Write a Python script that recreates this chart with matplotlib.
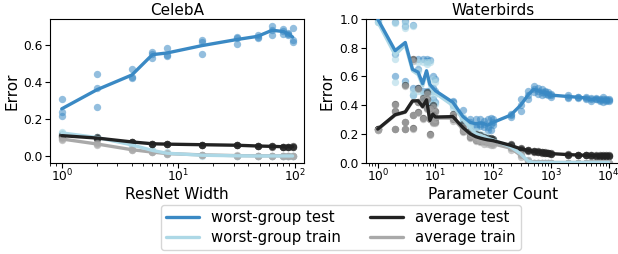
import numpy as np
import matplotlib
matplotlib.use("Agg")
import matplotlib.pyplot as plt

# ---------------- CelebA data ----------------
celeb_width = [1, 2, 4, 6, 8, 16, 32, 48, 64, 80, 88, 96]

celeb_worst_test = [0.255, 0.358, 0.438, 0.548, 0.557, 0.597, 0.63, 0.647, 0.68, 0.673, 0.66, 0.643]
celeb_worst_train = [0.125, 0.10, 0.06, 0.03, 0.015, 0.004, 0.001, 0.0, 0.0, 0.0, 0.0, 0.0]
celeb_avg_test = [0.11, 0.097, 0.076, 0.066, 0.064, 0.061, 0.058, 0.054, 0.052, 0.05, 0.05, 0.051]
celeb_avg_train = [0.092, 0.065, 0.034, 0.021, 0.013, 0.006, 0.002, 0.001, 0.001, 0.001, 0.001, 0.001]

celeb_worst_test_pts = [
    [0.31, 0.24, 0.215], [0.445, 0.365, 0.265], [0.47, 0.425, 0.42], [0.565, 0.55, 0.53],
    [0.585, 0.545, 0.54], [0.625, 0.615, 0.55], [0.645, 0.64, 0.605], [0.655, 0.645, 0.64],
    [0.705, 0.68, 0.655], [0.685, 0.675, 0.66], [0.665, 0.66, 0.655], [0.69, 0.625, 0.615]]
celeb_worst_train_pts = [
    [0.13, 0.125, 0.12], [0.105, 0.10, 0.095], [0.065, 0.06, 0.055], [0.035, 0.03, 0.025],
    [0.02, 0.015, 0.01], [0.005, 0.004, 0.002], [0.001, 0.0, 0.0], [0.0, 0.0, 0.0],
    [0.0, 0.0, 0.0], [0.0, 0.0, 0.0], [0.0, 0.0, 0.0], [0.0, 0.0, 0.0]]
celeb_avg_test_pts = [
    [0.115, 0.11, 0.105], [0.10, 0.097, 0.093], [0.078, 0.076, 0.074], [0.067, 0.066, 0.065],
    [0.065, 0.064, 0.063], [0.062, 0.061, 0.060], [0.059, 0.058, 0.057], [0.055, 0.054, 0.053],
    [0.053, 0.052, 0.051], [0.051, 0.05, 0.049], [0.051, 0.05, 0.049], [0.052, 0.051, 0.05]]
celeb_avg_train_pts = [
    [0.095, 0.092, 0.089], [0.068, 0.065, 0.062], [0.036, 0.034, 0.032], [0.023, 0.021, 0.019],
    [0.015, 0.013, 0.011], [0.007, 0.006, 0.005], [0.003, 0.002, 0.001], [0.001, 0.001, 0.001],
    [0.001, 0.001, 0.001], [0.001, 0.001, 0.001], [0.001, 0.001, 0.001], [0.001, 0.001, 0.001]]

# ---------------- Waterbirds data ----------------
wb_params = [1, 2, 3, 4, 5, 6, 7, 8, 9,
             10, 20, 30, 40, 50, 60, 70, 80, 90,
             100, 200, 300, 400, 500, 600, 700, 800, 900,
             1000, 2000, 3000, 4000, 5000, 6000, 7000, 8000, 9000, 10000]

wb_worst_test = [1.0, 0.78, 0.837, 0.65, 0.63, 0.55, 0.64, 0.545, 0.52,
                 0.50, 0.42, 0.32, 0.28, 0.27, 0.275, 0.27, 0.26, 0.27,
                 0.28, 0.33, 0.40, 0.47, 0.51, 0.50, 0.49, 0.49, 0.48,
                 0.47, 0.46, 0.455, 0.45, 0.44, 0.445, 0.435, 0.44, 0.435, 0.435]
wb_worst_train = [0.98, 0.75, 0.82, 0.64, 0.613, 0.533, 0.627, 0.53, 0.503,
                  0.483, 0.397, 0.30, 0.24, 0.20, 0.19, 0.18, 0.17, 0.163,
                  0.157, 0.11, 0.06, 0.01, 0.0, 0.0, 0.0, 0.0, 0.0,
                  0.0, 0.0, 0.0, 0.0, 0.0, 0.0, 0.0, 0.0, 0.0, 0.0]
wb_avg_test = [0.233, 0.333, 0.353, 0.43, 0.43, 0.39, 0.437, 0.293, 0.337,
               0.317, 0.32, 0.243, 0.20, 0.18, 0.17, 0.163, 0.158, 0.155,
               0.152, 0.12, 0.095, 0.085, 0.078, 0.075, 0.072, 0.068, 0.065,
               0.062, 0.055, 0.052, 0.05, 0.049, 0.048, 0.048, 0.047, 0.047, 0.047]
wb_avg_train = [0.23, 0.33, 0.35, 0.425, 0.425, 0.385, 0.43, 0.29, 0.33,
                0.31, 0.31, 0.23, 0.19, 0.165, 0.155, 0.145, 0.14, 0.135,
                0.13, 0.10, 0.05, 0.01, 0.0, 0.0, 0.0, 0.0, 0.0,
                0.0, 0.0, 0.0, 0.0, 0.0, 0.0, 0.0, 0.0, 0.0, 0.0]

wb_worst_test_pts = [
    [1.0, 1.0, 1.0], [0.98, 0.76, 0.605], [0.99, 0.955, 0.565], [0.96, 0.52, 0.47],
    [0.72, 0.65, 0.52], [0.72, 0.50, 0.43], [0.72, 0.71, 0.50], [0.715, 0.50, 0.42],
    [0.60, 0.52, 0.44], [0.58, 0.50, 0.42], [0.43, 0.42, 0.40], [0.365, 0.31, 0.285],
    [0.30, 0.28, 0.26], [0.30, 0.26, 0.25], [0.30, 0.27, 0.255], [0.29, 0.27, 0.25],
    [0.30, 0.25, 0.23], [0.31, 0.27, 0.23], [0.30, 0.28, 0.26], [0.34, 0.33, 0.32],
    [0.44, 0.40, 0.36], [0.50, 0.47, 0.44], [0.53, 0.51, 0.49], [0.52, 0.50, 0.48],
    [0.51, 0.49, 0.47], [0.50, 0.49, 0.48], [0.49, 0.48, 0.47], [0.48, 0.47, 0.46],
    [0.47, 0.46, 0.45], [0.46, 0.455, 0.45], [0.46, 0.45, 0.44], [0.45, 0.44, 0.43],
    [0.45, 0.445, 0.44], [0.44, 0.435, 0.43], [0.455, 0.44, 0.425], [0.44, 0.435, 0.43],
    [0.44, 0.435, 0.43]]
wb_worst_train_pts = [
    [0.98, 0.98, 0.98], [0.97, 0.72, 0.56], [0.97, 0.94, 0.55], [0.95, 0.50, 0.47],
    [0.70, 0.64, 0.50], [0.70, 0.48, 0.42], [0.70, 0.69, 0.49], [0.70, 0.48, 0.41],
    [0.58, 0.50, 0.43], [0.56, 0.48, 0.41], [0.41, 0.40, 0.38], [0.32, 0.30, 0.28],
    [0.26, 0.24, 0.22], [0.22, 0.20, 0.19], [0.20, 0.19, 0.18], [0.19, 0.18, 0.17],
    [0.18, 0.17, 0.16], [0.17, 0.165, 0.155], [0.165, 0.155, 0.15], [0.12, 0.11, 0.10],
    [0.07, 0.06, 0.05], [0.02, 0.01, 0.0], [0.0, 0.0, 0.0], [0.0, 0.0, 0.0],
    [0.0, 0.0, 0.0], [0.0, 0.0, 0.0], [0.0, 0.0, 0.0], [0.0, 0.0, 0.0],
    [0.0, 0.0, 0.0], [0.0, 0.0, 0.0], [0.0, 0.0, 0.0], [0.0, 0.0, 0.0],
    [0.0, 0.0, 0.0], [0.0, 0.0, 0.0], [0.0, 0.0, 0.0], [0.0, 0.0, 0.0],
    [0.0, 0.0, 0.0]]
wb_avg_test_pts = [
    [0.233, 0.233, 0.233], [0.405, 0.358, 0.237], [0.54, 0.283, 0.237], [0.72, 0.33, 0.24],
    [0.52, 0.42, 0.35], [0.45, 0.41, 0.31], [0.49, 0.44, 0.38], [0.38, 0.30, 0.20],
    [0.40, 0.33, 0.28], [0.36, 0.31, 0.28], [0.34, 0.32, 0.30], [0.27, 0.24, 0.22],
    [0.22, 0.20, 0.18], [0.20, 0.18, 0.16], [0.19, 0.17, 0.15], [0.18, 0.16, 0.15],
    [0.17, 0.16, 0.145], [0.17, 0.155, 0.14], [0.165, 0.15, 0.14], [0.13, 0.12, 0.11],
    [0.10, 0.095, 0.09], [0.09, 0.085, 0.08], [0.082, 0.078, 0.074], [0.078, 0.075, 0.072],
    [0.075, 0.072, 0.069], [0.07, 0.068, 0.066], [0.067, 0.065, 0.063], [0.064, 0.062, 0.06],
    [0.057, 0.055, 0.053], [0.053, 0.052, 0.05], [0.051, 0.05, 0.049], [0.05, 0.049, 0.048],
    [0.049, 0.048, 0.047], [0.049, 0.048, 0.047], [0.049, 0.048, 0.047], [0.049, 0.048, 0.047],
    [0.049, 0.048, 0.047]]
wb_avg_train_pts = [
    [0.23, 0.23, 0.23], [0.40, 0.35, 0.235], [0.53, 0.28, 0.235], [0.71, 0.33, 0.235],
    [0.51, 0.42, 0.345], [0.44, 0.405, 0.305], [0.48, 0.435, 0.375], [0.37, 0.30, 0.195],
    [0.39, 0.325, 0.275], [0.35, 0.305, 0.275], [0.33, 0.31, 0.29], [0.25, 0.23, 0.21],
    [0.21, 0.19, 0.17], [0.18, 0.165, 0.15], [0.17, 0.155, 0.14], [0.16, 0.145, 0.13],
    [0.15, 0.14, 0.13], [0.145, 0.135, 0.125], [0.14, 0.13, 0.12], [0.11, 0.10, 0.09],
    [0.06, 0.05, 0.04], [0.02, 0.01, 0.0], [0.0, 0.0, 0.0], [0.0, 0.0, 0.0],
    [0.0, 0.0, 0.0], [0.0, 0.0, 0.0], [0.0, 0.0, 0.0], [0.0, 0.0, 0.0],
    [0.0, 0.0, 0.0], [0.0, 0.0, 0.0], [0.0, 0.0, 0.0], [0.0, 0.0, 0.0],
    [0.0, 0.0, 0.0], [0.0, 0.0, 0.0], [0.0, 0.0, 0.0], [0.0, 0.0, 0.0],
    [0.0, 0.0, 0.0]]

labels = ["worst-group test", "worst-group train", "average test", "average train"]
colors = ["#3a89c4", "#add8e6", "#222222", "#a9a9a9"]
pt_alpha = [0.55, 0.6, 0.6, 0.6]
line_z = [6, 4, 5, 3]

FS = 11.0
LS = 10.7
TS = 8.8

fig = plt.figure(figsize=(6.18, 2.54), dpi=100)
ax1 = fig.add_axes([50.2 / 618, 1 - 162.5 / 254, 254 / 618, 143.4 / 254])
ax2 = fig.add_axes([366.2 / 618, 1 - 162.5 / 254, 254 / 618, 143.4 / 254])


def draw(ax, x, lines, pts):
    handles = []
    for i in range(4):
        p = np.asarray(pts[i])
        xs = np.repeat(np.asarray(x, dtype=float), p.shape[1])
        ax.scatter(xs, p.ravel(), s=28, color=colors[i], alpha=pt_alpha[i],
                   linewidths=0, zorder=2)
    for i in range(4):
        h, = ax.plot(x, lines[i], color=colors[i], lw=2.4, zorder=line_z[i],
                     solid_capstyle="round", label=labels[i])
        handles.append(h)
    ax.set_xscale("log")
    ax.tick_params(axis="y", labelsize=TS, pad=2)
    ax.tick_params(axis="x", which="both", labelsize=TS, pad=0.5)
    ax.set_ylabel("Error", fontsize=FS, labelpad=3)
    return handles


handles = draw(ax1, celeb_width,
               [celeb_worst_test, celeb_worst_train, celeb_avg_test, celeb_avg_train],
               [celeb_worst_test_pts, celeb_worst_train_pts, celeb_avg_test_pts, celeb_avg_train_pts])
ax1.set_title("CelebA", fontsize=FS, pad=3)
ax1.set_xlabel("ResNet Width", fontsize=FS, labelpad=1.5)
ax1.set_yticks([0.0, 0.2, 0.4, 0.6])

draw(ax2, wb_params,
     [wb_worst_test, wb_worst_train, wb_avg_test, wb_avg_train],
     [wb_worst_test_pts, wb_worst_train_pts, wb_avg_test_pts, wb_avg_train_pts])
ax2.set_title("Waterbirds", fontsize=FS, pad=3)
ax2.set_xlabel("Parameter Count", fontsize=FS, labelpad=1.5)
ax2.set_ylim(0, 1)
ax2.set_yticks([0.0, 0.2, 0.4, 0.6, 0.8, 1.0])

fig.legend(handles=handles, labels=labels, loc="center", bbox_to_anchor=(341 / 618, 1 - 227.5 / 254),
           ncol=2, fontsize=LS, frameon=True, handlelength=2.2, columnspacing=2.0,
           borderpad=0.35, labelspacing=0.3)

fig.savefig("out.png", dpi=100)
